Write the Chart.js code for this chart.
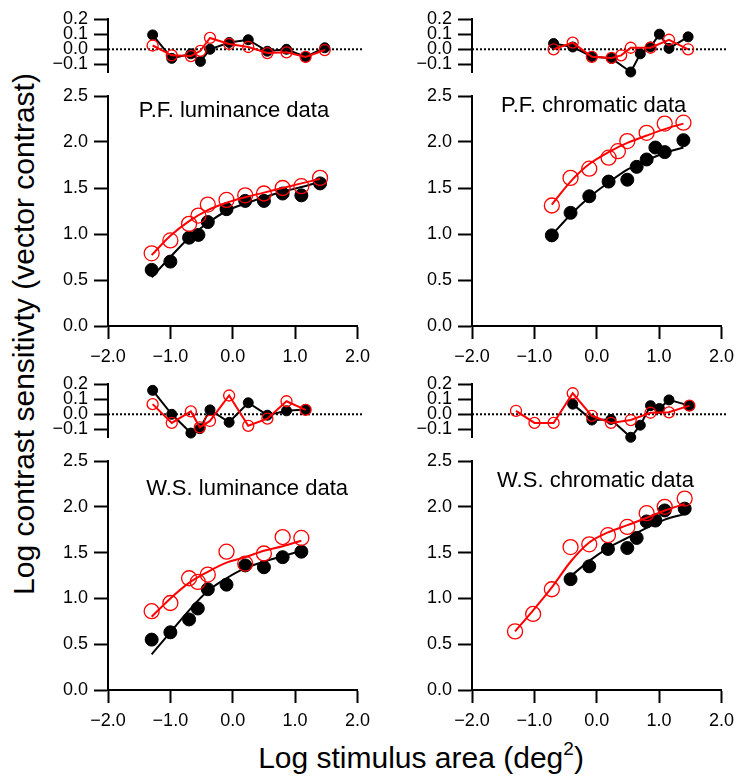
<!DOCTYPE html>
<html>
<head>
<meta charset="utf-8">
<title>Contrast sensitivity vs stimulus area</title>
<script src="https://cdn.jsdelivr.net/npm/chart.js@4.4.0/dist/chart.umd.min.js"></script>
<style>
  html, body { margin: 0; padding: 0; background: #fff; }
  #fig {
    position: relative; width: 743px; height: 779px; overflow: hidden;
    font-family: "Liberation Sans", Arial, Helvetica, sans-serif; color: #000;
  }
  #fig canvas { position: absolute; }
  .ytitle {
    position: absolute; left: -276px; top: 319px; width: 600px; height: 30px;
    line-height: 30px; font-size: 30px; text-align: center; white-space: nowrap;
    transform: rotate(-90deg);
  }
  .xtitle {
    position: absolute; left: 121px; top: 743px; width: 600px; height: 30px;
    line-height: 30px; font-size: 30px; text-align: center; white-space: nowrap;
  }
  .xtitle sup { font-size: 19px; vertical-align: 13px; line-height: 0; }
</style>
</head>
<body>
<div id="fig">
  <div class="ytitle">Log contrast sensitivty (vector contrast)</div>
  <div class="xtitle">Log stimulus area (deg<sup>2</sup>)</div>
</div>
<script>
// ---- axis ticks --------------------------------------------------------
const X_TICKS = [-2, -1, 0, 1, 2];
const MAIN_TICKS = [0, 0.5, 1, 1.5, 2, 2.5];
const RES_TICKS = [-0.1, 0, 0.1, 0.2];

// ---- P.F. luminance ----------------------------------------------------
const pfLumX = [-1.3, -1.0, -0.7, -0.55, -0.4, -0.1, 0.2, 0.5, 0.8, 1.1, 1.4];
const pfLumBlack = [0.61, 0.70, 0.96, 0.99, 1.13, 1.27, 1.36, 1.36, 1.44, 1.42, 1.55];
const pfLumRed = [0.79, 0.93, 1.11, 1.20, 1.32, 1.37, 1.42, 1.44, 1.50, 1.52, 1.61];
const pfLumFitX = [-1.3, -1.0, -0.7, -0.4, -0.1, 0.2, 0.5, 0.8, 1.1, 1.4];
const pfLumBlackFit = [0.53, 0.75, 0.96, 1.12, 1.25, 1.33, 1.40, 1.46, 1.51, 1.57];
const pfLumRedFit = [0.77, 0.98, 1.14, 1.26, 1.34, 1.40, 1.45, 1.50, 1.55, 1.60];
const pfLumBlackRes = [0.095, -0.06, -0.03, -0.08, 0.0, 0.045, 0.063, -0.013, 0.0, -0.05, 0.01];
const pfLumRedRes = [0.025, -0.04, -0.045, -0.01, 0.075, 0.035, 0.015, -0.025, -0.02, -0.05, -0.005];

// ---- P.F. chromatic ----------------------------------------------------
const pfChrBlackX = [-0.72, -0.42, -0.12, 0.19, 0.49, 0.64, 0.80, 0.94, 1.09, 1.39];
const pfChrBlack = [0.985, 1.23, 1.41, 1.57, 1.59, 1.73, 1.81, 1.94, 1.89, 2.02];
const pfChrRedX = [-0.72, -0.42, -0.12, 0.19, 0.34, 0.49, 0.80, 1.09, 1.39];
const pfChrRed = [1.31, 1.61, 1.71, 1.83, 1.90, 2.01, 2.10, 2.20, 2.21];
const pfChrFitX = [-0.72, -0.42, -0.12, 0.19, 0.49, 0.80, 1.09, 1.39];
const pfChrBlackFit = [0.99, 1.21, 1.40, 1.56, 1.70, 1.80, 1.88, 1.94];
const pfChrRedFit = [1.32, 1.57, 1.76, 1.89, 1.99, 2.07, 2.14, 2.20];
const pfChrBlackRes = [0.038, 0.015, -0.048, -0.06, -0.15, -0.03, 0.015, 0.10, 0.006, 0.082];
const pfChrRedRes = [0.0, 0.044, -0.05, -0.057, -0.04, 0.01, 0.01, 0.063, 0.0];

// ---- W.S. luminance ----------------------------------------------------
const wsLumX = [-1.3, -1.0, -0.7, -0.56, -0.4, -0.1, 0.2, 0.5, 0.8, 1.1];
const wsLumBlack = [0.55, 0.63, 0.77, 0.89, 1.10, 1.15, 1.36, 1.34, 1.45, 1.51];
const wsLumRed = [0.86, 0.95, 1.22, 1.18, 1.26, 1.51, 1.38, 1.49, 1.67, 1.66];
const wsLumFitX = [-1.3, -1.0, -0.7, -0.4, -0.1, 0.2, 0.5, 0.8, 1.1];
const wsLumBlackFit = [0.39, 0.63, 0.87, 1.08, 1.22, 1.33, 1.40, 1.46, 1.52];
const wsLumRedFit = [0.80, 1.00, 1.17, 1.29, 1.39, 1.45, 1.52, 1.57, 1.63];
const wsLumBlackRes = [0.158, 0.0, -0.124, -0.095, 0.029, -0.053, 0.076, -0.006, 0.023, 0.032];
const wsLumRedRes = [0.067, -0.057, 0.019, -0.086, -0.044, 0.124, -0.076, -0.029, 0.086, 0.029];

// ---- W.S. chromatic ----------------------------------------------------
const wsChrRedX = [-1.31, -1.02, -0.72, -0.42, -0.12, 0.18, 0.49, 0.80, 1.09, 1.41];
const wsChrRed = [0.64, 0.83, 1.10, 1.56, 1.59, 1.69, 1.78, 1.93, 2.00, 2.09];
const wsChrBlackX = [-0.42, -0.12, 0.18, 0.49, 0.64, 0.80, 0.94, 1.09, 1.41];
const wsChrBlack = [1.21, 1.35, 1.54, 1.55, 1.66, 1.84, 1.85, 1.96, 1.98];
const wsChrRedFit = [0.64, 0.87, 1.12, 1.40, 1.61, 1.72, 1.80, 1.88, 1.96, 2.03];
const wsChrBlackFitX = [-0.42, -0.12, 0.18, 0.49, 0.80, 1.09, 1.41];
const wsChrBlackFit = [1.24, 1.41, 1.55, 1.66, 1.77, 1.86, 1.92];
const wsChrBlackRes = [0.067, -0.038, -0.034, -0.152, -0.072, 0.057, 0.038, 0.095, 0.057];
const wsChrRedRes = [0.023, -0.057, -0.057, 0.139, -0.01, -0.057, -0.038, 0.01, 0.013, 0.057];

// ---- style -------------------------------------------------------------
const FONT = '"Liberation Sans", Arial, Helvetica, sans-serif';
const TICK_FONT = { family: FONT, size: 18, lineHeight: 1 };
const RED = '#ff0000';
const MARGIN = { left: 62, right: 16, top: 14 };
const fig = document.getElementById('fig');

const fmt = v => (v < -1e-9 ? '\u2212' : '') + Math.abs(v).toFixed(1);
const pts = (xs, ys) => xs.map((x, i) => ({ x, y: ys[i] }));

// panel label drawn inside the plot at data coords
const panelTitle = {
  id: 'panelTitle',
  afterDatasetsDraw(chart, args, opts) {
    if (!opts.text) return;
    const { ctx, scales } = chart;
    ctx.save();
    ctx.font = '22px ' + FONT;
    ctx.fillStyle = '#000';
    ctx.textAlign = 'center';
    ctx.textBaseline = 'alphabetic';
    ctx.fillText(opts.text, scales.x.getPixelForValue(opts.x), scales.y.getPixelForValue(opts.y));
    ctx.restore();
  }
};

function yScale(min, max, ticks) {
  return {
    type: 'linear', min, max,
    afterBuildTicks: s => { s.ticks = ticks.map(value => ({ value })); },
    afterFit: s => { s.width = MARGIN.left; },
    ticks: { callback: v => fmt(v), font: TICK_FONT, color: '#000', padding: 6, autoSkip: false },
    grid: { drawOnChartArea: false, tickLength: 14, tickWidth: 2, tickColor: '#000' },
    border: { color: '#000', width: 2 }
  };
}

function xScale(show) {
  return {
    type: 'linear', min: X_TICKS[0], max: X_TICKS[X_TICKS.length - 1], display: show,
    afterBuildTicks: s => { s.ticks = X_TICKS.map(value => ({ value })); },
    afterFit: s => { if (show) s.height = 48; },
    ticks: { callback: v => fmt(v), font: TICK_FONT, color: '#000', padding: 9, maxRotation: 0, autoSkip: false },
    grid: { drawOnChartArea: false, tickLength: 13, tickWidth: 2, tickColor: '#000' },
    border: { color: '#000', width: 2 }
  };
}

// area = plot area in page pixels
function makeChart(area, bottom, datasets, scales, title) {
  const c = document.createElement('canvas');
  const w = area.r - area.l + MARGIN.left + MARGIN.right;
  const h = area.b - area.t + MARGIN.top + bottom;
  c.width = w; c.height = h;
  c.style.width = w + 'px'; c.style.height = h + 'px';
  c.style.left = (area.l - MARGIN.left) + 'px';
  c.style.top = (area.t - MARGIN.top) + 'px';
  fig.appendChild(c);
  return new Chart(c, {
    type: 'scatter',
    data: { datasets },
    plugins: [panelTitle],
    options: {
      responsive: false,
      animation: false,
      events: [],
      layout: { padding: { left: 0, right: MARGIN.right, top: MARGIN.top, bottom: title ? 0 : bottom } },
      plugins: { legend: { display: false }, tooltip: { enabled: false }, panelTitle: title || {} },
      scales
    }
  });
}

function mainPanel(area, p) {
  const datasets = [
    { data: pts(p.redFitX, p.redFit), showLine: true, borderColor: RED, borderWidth: 2,
      pointRadius: 0, cubicInterpolationMode: 'monotone', clip: false, order: 0 },
    { data: pts(p.redX, p.red), showLine: false, pointRadius: 7.5, pointBorderWidth: 1.3,
      pointBorderColor: RED, pointBackgroundColor: 'rgba(0,0,0,0)', clip: false, order: 1 },
    { data: pts(p.blackFitX, p.blackFit), showLine: true, borderColor: '#000', borderWidth: 2,
      pointRadius: 0, cubicInterpolationMode: 'monotone', clip: false, order: 2 },
    { data: pts(p.blackX, p.black), showLine: false, pointRadius: 6.5, pointBorderWidth: 1,
      pointBorderColor: '#000', pointBackgroundColor: '#000', clip: false, order: 3 }
  ];
  makeChart(area, 48, datasets,
    { x: xScale(true), y: yScale(MAIN_TICKS[0], MAIN_TICKS[MAIN_TICKS.length - 1], MAIN_TICKS) },
    p.title);
}

function resPanel(area, p) {
  const datasets = [
    { data: pts(p.redX, p.redRes), showLine: true, borderColor: RED, borderWidth: 2,
      pointRadius: 5.5, pointBorderWidth: 1.3, pointBorderColor: RED,
      pointBackgroundColor: 'rgba(0,0,0,0)', clip: false, order: 1 },
    { data: pts(p.blackX, p.blackRes), showLine: true, borderColor: '#000', borderWidth: 2,
      pointRadius: 5, pointBorderWidth: 1, pointBorderColor: '#000',
      pointBackgroundColor: '#000', clip: false, order: 3 },
    { data: pts([X_TICKS[0], X_TICKS[X_TICKS.length - 1]], [0, 0]), showLine: true,
      borderColor: '#000', borderWidth: 2, borderDash: [2, 2], pointRadius: 0, order: 9 }
  ];
  makeChart(area, 8, datasets, { x: xScale(false), y: yScale(-0.15, 0.2, RES_TICKS) }, null);
}

const panels = [
  { col: { l: 108, r: 363 }, res: { t: 18, b: 79 }, main: { t: 95, b: 326 },
    title: { text: 'P.F. luminance data', x: 0.02, y: 2.27 },
    blackX: pfLumX, black: pfLumBlack, redX: pfLumX, red: pfLumRed,
    blackFitX: pfLumFitX, blackFit: pfLumBlackFit, redFitX: pfLumFitX, redFit: pfLumRedFit,
    blackRes: pfLumBlackRes, redRes: pfLumRedRes },
  { col: { l: 472, r: 727 }, res: { t: 18, b: 79 }, main: { t: 95, b: 326 },
    title: { text: 'P.F. chromatic data', x: -0.05, y: 2.33 },
    blackX: pfChrBlackX, black: pfChrBlack, redX: pfChrRedX, red: pfChrRed,
    blackFitX: pfChrFitX, blackFit: pfChrBlackFit, redFitX: pfChrFitX, redFit: pfChrRedFit,
    blackRes: pfChrBlackRes, redRes: pfChrRedRes },
  { col: { l: 108, r: 363 }, res: { t: 383, b: 444 }, main: { t: 460, b: 690 },
    title: { text: 'W.S. luminance data', x: 0.23, y: 2.13 },
    blackX: wsLumX, black: wsLumBlack, redX: wsLumX, red: wsLumRed,
    blackFitX: wsLumFitX, blackFit: wsLumBlackFit, redFitX: wsLumFitX, redFit: wsLumRedFit,
    blackRes: wsLumBlackRes, redRes: wsLumRedRes },
  { col: { l: 472, r: 727 }, res: { t: 383, b: 444 }, main: { t: 460, b: 690 },
    title: { text: 'W.S. chromatic data', x: -0.02, y: 2.22 },
    blackX: wsChrBlackX, black: wsChrBlack, redX: wsChrRedX, red: wsChrRed,
    blackFitX: wsChrBlackFitX, blackFit: wsChrBlackFit, redFitX: wsChrRedX, redFit: wsChrRedFit,
    blackRes: wsChrBlackRes, redRes: wsChrRedRes }
];

panels.forEach(p => {
  mainPanel({ l: p.col.l, r: p.col.r, t: p.main.t, b: p.main.b }, p);
  resPanel({ l: p.col.l, r: p.col.r, t: p.res.t, b: p.res.b }, p);
});
</script>
</body>
</html>
